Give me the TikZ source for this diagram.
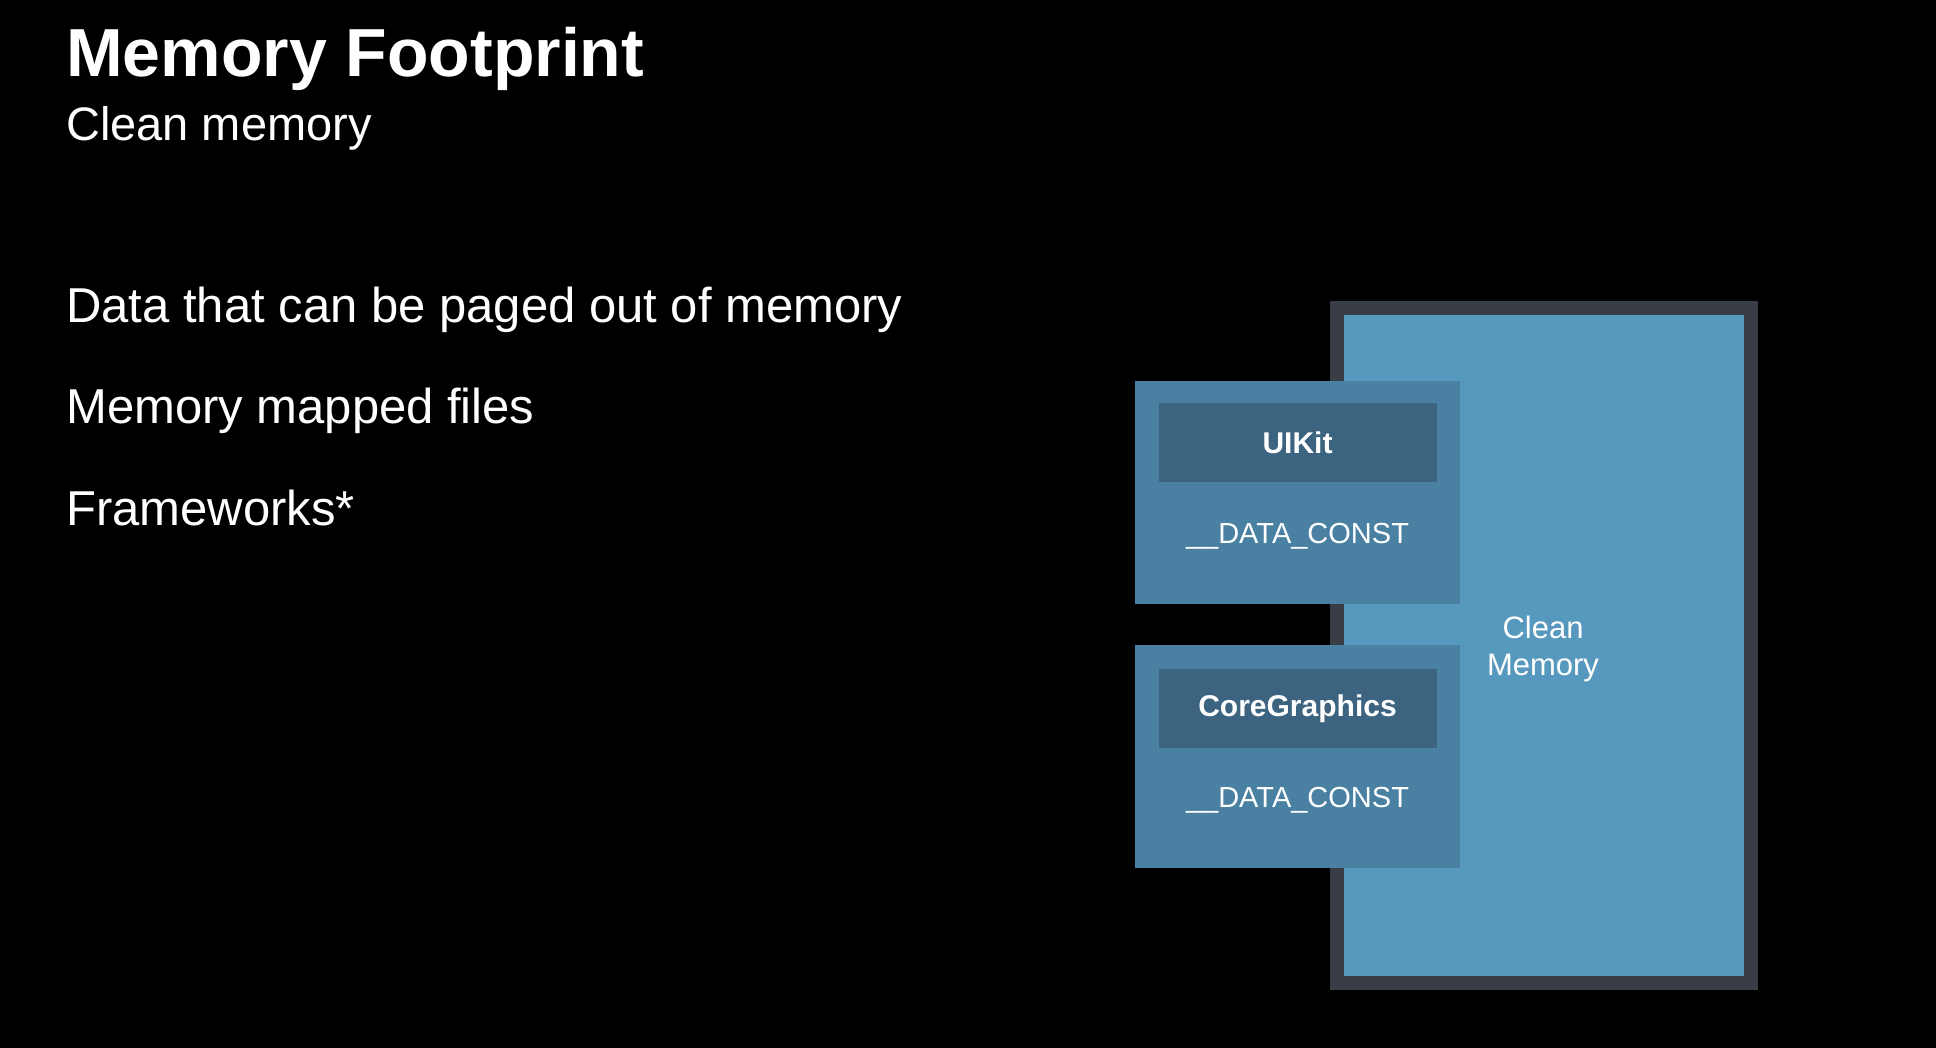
\documentclass[tikz,border=0pt]{standalone}
\usepackage{fontspec}
\setmainfont{Liberation Sans}
\usetikzlibrary{positioning}

\definecolor{framegray}{RGB}{57,61,69}
\definecolor{cleanblue}{RGB}{87,153,190}
\definecolor{modblue}{RGB}{74,129,163}
\definecolor{headblue}{RGB}{60,99,128}

\begin{document}
\begin{tikzpicture}[x=1pt, y=-1pt,
  module/.style={fill=modblue, minimum width=325pt, minimum height=223pt, inner sep=0pt, outer sep=0pt},
  header/.style={fill=headblue, minimum width=278pt, minimum height=79pt, inner sep=0pt, text=white, font=\fontsize{30}{36}\selectfont\bfseries},
  segname/.style={text=white, font=\fontsize{29}{35}\selectfont},
  bullet/.style={anchor=base west, inner sep=0pt, text=white, font=\fontsize{49}{58}\selectfont}]

  % background
  \fill[black] (0,0) rectangle (1936,1048);
  \useasboundingbox (0,0) rectangle (1936,1048);

  % Title and text
  \node[anchor=base west, inner sep=0pt, text=white, font=\fontsize{68}{80}\selectfont\bfseries] (title) at (66,77) {Memory Footprint};
  \node[anchor=base west, inner sep=0pt, text=white, font=\fontsize{47}{55}\selectfont] (subtitle) at (66,141) {Clean memory};
  \node[bullet] (B1) at (66,323) {Data that can be paged out of memory};
  \node[bullet] (B2) at (66,424) {Memory mapped files};
  \node[bullet] (B3) at (66,525) {Frameworks*};

  % Clean memory region
  \node[fill=cleanblue, draw=framegray, line width=14pt, minimum width=414pt, minimum height=674pt, inner sep=0pt] (clean) at (1544,645.5) {};
  \node[text=white, align=center, font=\fontsize{31}{37}\selectfont] (cleanlbl) at (1543,648.5) {Clean\\Memory};

  % UIKit
  \node[module] (uikit) at (1297.5,492.5) {};
  \node[header, below=22pt of uikit.north] (uikithead) {UIKit};
  \node[segname, below=54pt of uikithead.south, anchor=center] (uikitdata) {\_\_DATA\_CONST};

  % CoreGraphics
  \node[module, below=41pt of uikit] (cg) {};
  \node[header, below=24pt of cg.north] (cghead) {CoreGraphics};
  \node[segname, below=52pt of cghead.south, anchor=center] (cgdata) {\_\_DATA\_CONST};

\end{tikzpicture}
\end{document}
